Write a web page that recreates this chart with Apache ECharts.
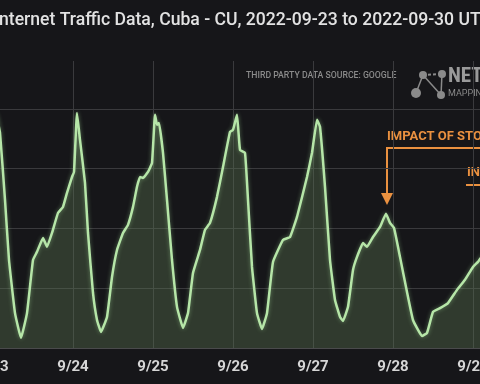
<!DOCTYPE html>
<html>
<head>
<meta charset="utf-8">
<script src="https://cdn.jsdelivr.net/npm/echarts@6/dist/echarts.min.js"></script>
<style>
html,body{margin:0;padding:0;background:#161619;}
#chart{width:480px;height:384px;}
</style>
</head>
<body>
<div id="chart"></div>
<script>
// Hours since 2022-09-23 00:00 UTC
var hours = [0, 0.9, 2.1, 3.6, 4.8, 6.6, 8.4, 10.2, 12.0, 13.2, 15.0, 16.2, 17.7, 19.5, 21.0, 22.2, 23.7,
  24.3, 25.2, 26.1, 27.6, 28.5, 30.0, 31.2, 32.4, 34.2, 35.7, 37.2, 39.0, 40.5, 42.0, 43.2, 44.1, 45.0, 46.5, 47.7,
  48.6, 49.2, 49.8, 51.0, 52.2, 53.7, 55.2, 57.0, 58.5, 60.0, 62.1, 63.6, 65.1, 67.2, 69.0, 71.1,
  72.0, 73.2, 74.1, 75.6, 76.5, 77.7, 79.2, 80.7, 82.2, 84.0, 87.0, 89.1, 91.2, 94.2, 95.7,
  97.2, 98.1, 99.6, 101.1, 102.6, 104.1, 105.0, 106.5, 108.0, 109.2, 111.0, 112.2, 114.0, 116.1, 117.9,
  119.1, 120.3, 122.1, 124.2, 126.0, 128.7, 130.2, 132.0, 134.1, 136.5, 139.2, 141.6, 144.0, 145.5, 147.0];
// Relative traffic level
var traffic = [87.0, 97.9, 90.0, 61.9, 36.8, 14.6, 4.2, 14.6, 36.8, 40.2, 46.0, 42.3, 48.1, 56.5, 59.0, 64.9, 71.5,
  73.6, 98.3, 87.0, 69.0, 48.1, 23.0, 11.7, 6.7, 13.0, 29.7, 41.0, 48.1, 51.5, 59.0, 67.4, 71.5, 71.1, 73.6, 77.4,
  97.5, 93.3, 94.1, 81.6, 61.9, 36.8, 17.2, 8.4, 14.6, 31.4, 41.0, 49.4, 52.3, 63.2, 75.7, 90.4,
  91.2, 97.5, 82.8, 81.6, 61.9, 33.9, 14.6, 7.9, 14.6, 36.0, 45.2, 46.4, 54.8, 71.5, 81.6,
  95.4, 92.5, 67.4, 36.8, 20.1, 13.0, 11.3, 17.2, 32.6, 38.1, 43.9, 42.3, 46.4, 50.6, 56.1,
  52.3, 50.2, 38.1, 23.4, 11.7, 5.0, 6.3, 15.1, 16.7, 18.8, 24.3, 28.5, 33.9, 36.0, 38.9];
var dayLabels = ['9/23', '9/24', '9/25', '9/26', '9/27', '9/28', '9/29', '9/30'];
var titleText = 'Internet Traffic Data, Cuba - CU, 2022-09-23 to 2022-09-30 UTC';
var sourceText = 'THIRD PARTY DATA SOURCE: GOOGLE';
var note1 = 'IMPACT OF STORM';
var note2 = 'IN';

var data = hours.map(function (h, i) { return [h, traffic[i]]; });
var chart = echarts.init(document.getElementById('chart'), null, {renderer: 'canvas'});
var orange = '#ea9140';
var logoGray = '#8a8a8a';
chart.setOption({
  backgroundColor: '#161619',
  animation: false,
  grid: {left: -7, right: -73, top: 61, bottom: 36, outerBoundsMode: 'none', containLabel: false},
  xAxis: {
    type: 'value', min: 0, max: 168, interval: 24,
    axisLine: {show: true, lineStyle: {color: '#4a4a4c', width: 1}},
    axisTick: {show: false},
    splitLine: {show: true, lineStyle: {color: '#3a3a3d', width: 1}},
    axisLabel: {
      color: '#d6d6d6', fontFamily: 'Roboto', fontWeight: 'bold', fontSize: 15, margin: 12,
      formatter: function (v) { return dayLabels[Math.round(v / 24)]; }
    }
  },
  yAxis: {
    type: 'value', min: 0, max: 120, interval: 25,
    axisLine: {show: false}, axisTick: {show: false}, axisLabel: {show: false},
    splitLine: {show: true, showMaxLine: false, showMinLine: false, lineStyle: {color: '#3a3a3d', width: 1}}
  },
  series: [{
    type: 'line', data: data, showSymbol: false, smooth: 0.1,
    lineStyle: {color: '#b6e6a8', width: 2.5, shadowBlur: 4, shadowColor: 'rgba(170,230,160,0.45)'},
    areaStyle: {color: 'rgba(92,122,84,0.52)'}
  }],
  graphic: [
    {type: 'text', left: -6, top: 12, style: {text: titleText, fill: '#e2e2e2', font: '500 17.6px Roboto'}},
    {type: 'text', left: 246, top: 71, style: {text: sourceText, fill: '#8a8a8a', font: '500 8.7px Roboto'}},
    {type: 'line', shape: {x1: 423, y1: 75, x2: 442, y2: 74}, style: {stroke: logoGray, lineWidth: 2, lineDash: [3, 2]}},
    {type: 'line', shape: {x1: 423, y1: 75, x2: 416, y2: 93}, style: {stroke: logoGray, lineWidth: 1.5}},
    {type: 'line', shape: {x1: 423, y1: 75, x2: 441, y2: 95}, style: {stroke: logoGray, lineWidth: 1.5}},
    {type: 'line', shape: {x1: 442, y1: 74, x2: 441, y2: 95}, style: {stroke: logoGray, lineWidth: 1.5}},
    {type: 'circle', shape: {cx: 423, cy: 75, r: 4}, style: {fill: logoGray}},
    {type: 'circle', shape: {cx: 442, cy: 74, r: 4}, style: {fill: logoGray}},
    {type: 'circle', shape: {cx: 416, cy: 93, r: 5}, style: {fill: logoGray}},
    {type: 'circle', shape: {cx: 441, cy: 95, r: 4}, style: {fill: logoGray}},
    {type: 'text', left: 448, top: 66, style: {text: 'NETBLOCKS', fill: '#9a9a9a', font: 'bold 21px "Liberation Sans Narrow", "Roboto Condensed", Roboto'}},
    {type: 'text', left: 448, top: 89, style: {text: 'MAPPING', fill: '#8a8a8a', font: '9px "Liberation Sans Narrow", Roboto'}},
    {type: 'text', left: 387, top: 130, style: {text: note1, fill: orange, font: 'bold 13px Roboto'}},
    {type: 'polyline', shape: {points: [[490, 148], [387, 148], [387, 194]]}, style: {stroke: orange, lineWidth: 2, fill: null}},
    {type: 'polygon', shape: {points: [[381, 193], [393, 193], [387, 205]]}, style: {fill: orange}},
    {type: 'text', left: 467, top: 166, style: {text: note2, fill: orange, font: 'bold 13px Roboto'}},
    {type: 'line', shape: {x1: 466, y1: 185, x2: 490, y2: 185}, style: {stroke: orange, lineWidth: 2}}
  ]
});
</script>
</body>
</html>
